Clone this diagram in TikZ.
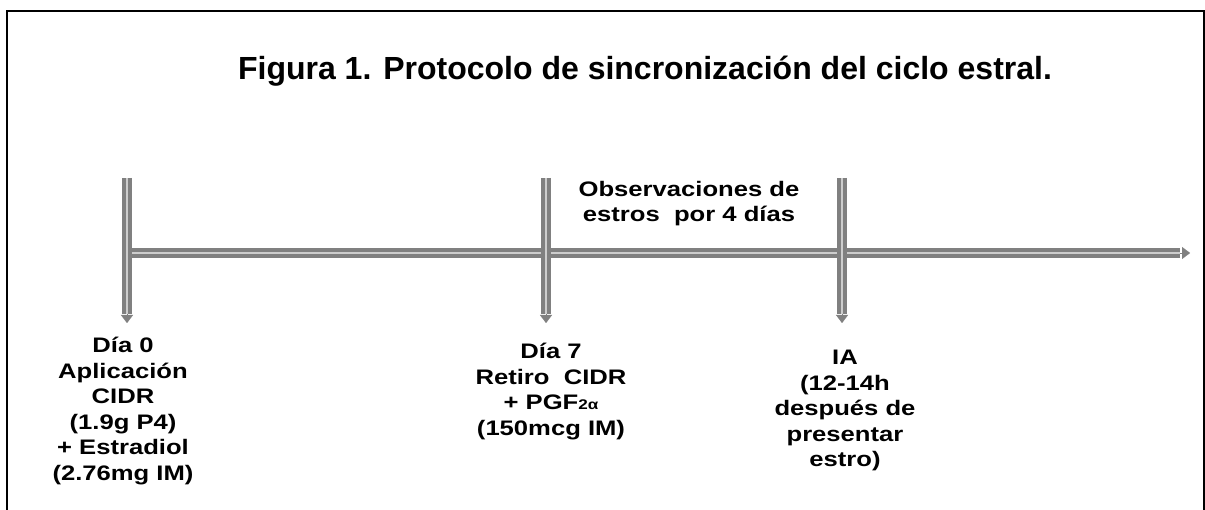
\documentclass[tikz,border=0pt]{standalone}
\usepackage{fontspec}
\setmainfont{Liberation Sans}
\newfontfamily\widefont[FakeStretch=1.22]{Liberation Sans}
\usetikzlibrary{arrows.meta}
\definecolor{shaft}{RGB}{128,128,128}
\definecolor{shaftin}{RGB}{205,205,205}
\tikzset{
  shaftline/.style={draw=shaft, double=shaftin, double distance=2pt, line width=4pt},
  tipline/.style={draw=shaft, line width=0.1pt, -{Triangle[width=12pt,length=8pt,fill=shaft]}},
  lbl/.style={align=center, font=\widefont\fontsize{21}{25.5}\selectfont\bfseries, inner sep=0pt},
  ttl/.style={font=\fontsize{32}{36}\selectfont\bfseries, inner sep=0pt},
}
\begin{document}
\begin{tikzpicture}[x=1pt,y=-1pt]
\useasboundingbox (0,0) rectangle (1205,510);
% frame
\draw[line width=2pt] (7,510) -- (7,11) -- (1204,11) -- (1204,510);
% title
\node[ttl, anchor=base] (title) at (645,80) {Figura 1. Protocolo de sincronización del ciclo estral.};
% coordinates
\coordinate (h0) at (127,253);
\coordinate (hend) at (1180,253);
\coordinate (htip) at (1190,253);
\coordinate (t0) at (127,178);
\coordinate (b0) at (127,314);
\coordinate (e0) at (127,323);
\coordinate (t7) at (546,178);
\coordinate (b7) at (546,314);
\coordinate (e7) at (546,323);
\coordinate (tI) at (842,178);
\coordinate (bI) at (842,314);
\coordinate (eI) at (842,323);
% horizontal timeline
\draw[shaftline] (h0) -- (hend);
\draw[tipline] (hend) -- (htip);
% vertical markers
\draw[shaftline] (t0) -- (b0);
\draw[tipline] (b0) -- (e0);
\draw[shaftline] (t7) -- (b7);
\draw[tipline] (b7) -- (e7);
\draw[shaftline] (tI) -- (bI);
\draw[tipline] (bI) -- (eI);
% labels
\node[lbl, anchor=north] (d0) at (123,337) {Día 0\\Aplicación\\CIDR\\(1.9g P4)\\+ Estradiol\\(2.76mg IM)};
\node[lbl, anchor=north] (d7) at (551,343) {Día 7\\Retiro\ \ CIDR\\+ PGF{\fontsize{14}{14}\selectfont 2α}\\(150mcg IM)};
\node[lbl, anchor=north] (ia) at (845,350) {IA\\(12-14h\\después de\\presentar\\estro)};
\node[lbl, anchor=north] (obs) at (689,181) {Observaciones de\\estros\ \ por 4 días};
\end{tikzpicture}
\end{document}
